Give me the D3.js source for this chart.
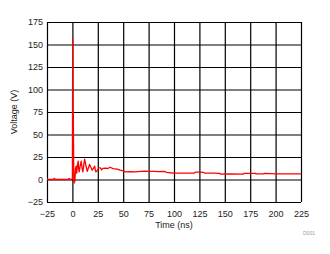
<!DOCTYPE html>
<html>
<head>
<meta charset="utf-8">
<script src="https://cdn.jsdelivr.net/npm/d3@7"></script>
<style>
  body { margin: 0; background: #fff; }
  svg { display: block; font-family: Arial, "Liberation Sans", sans-serif; }
</style>
</head>
<body>
<div id="chart"></div>
<script>
// Time axis (ns) and measured voltage (V)
const timeNs = [-25, -18.5, -18, -17.5, -17, -4, -3.5, -3, -2.5, -0.5, 0, 0.3, 0.6, 0.9, 1.3, 1.7, 2.1, 2.5,
  3, 3.7, 4.2, 5, 5.7, 6.2, 6.7, 7.5, 8.7, 9.5, 10.3, 11.2, 12, 13, 14.6, 15.8, 16.9, 18, 19.5, 20.5,
  21.9, 22.5, 23.1, 24.5, 26, 27.5, 28.7, 30, 32, 35, 37, 40, 44, 47, 50, 52, 57, 62, 67, 71, 75, 80,
  85, 90, 93, 96, 100, 105, 110, 116, 120, 121, 125, 129, 130, 135, 140, 145, 146, 155, 168, 169, 175,
  180, 181, 188, 189, 195, 200, 210, 225];
const voltage = [0, 0, 1.2, 1.2, 0, 0, 1, 1, 0, 0.5, 1, 156, 70, 72, 10, -4, 6, -2,
  12, 14.8, 7, 16, 20.3, 12, 8.5, 14, 20.3, 13, 8.5, 16, 22.5, 17, 9, 13, 16.7, 14, 10.3, 12,
  14.8, 11, 8.5, 10, 13, 13, 10.7, 12.4, 12.6, 12.2, 13.6, 12, 11.5, 10.3, 9.5, 8.5, 8.7, 8.5, 9, 9.2, 9, 9,
  8.8, 9, 8, 7.5, 7, 7, 7, 7, 7.2, 8.2, 8.3, 8, 7.2, 7, 7, 6.8, 6, 6.2, 6, 6.8, 6.8,
  6.8, 6.2, 6.3, 6.8, 6.5, 6.2, 6.2, 6.2];

const xTicks = [-25, 0, 25, 50, 75, 100, 125, 150, 175, 200, 225];
const yTicks = [-25, 0, 25, 50, 75, 100, 125, 150, 175];

const data = timeNs.map((t, i) => ({ t, v: voltage[i] }));

const W = 330, H = 254;
const margin = { top: 22, right: 29, bottom: 52, left: 47 };
const width = W - margin.left - margin.right;
const height = H - margin.top - margin.bottom;

const svg = d3.select("#chart")
  .append("svg")
  .attr("width", W)
  .attr("height", H);

const g = svg.append("g")
  .attr("transform", `translate(${margin.left},${margin.top})`);

const x = d3.scaleLinear().domain([-25, 225]).range([0, width]);
const y = d3.scaleLinear().domain([-25, 175]).range([height, 0]);

// Grid + x labels
const xAxis = g.append("g")
  .attr("transform", `translate(0,${height})`)
  .call(d3.axisBottom(x).tickValues(xTicks).tickSize(-height).tickPadding(9));
xAxis.select(".domain").remove();
xAxis.selectAll("line").attr("stroke", "#000").attr("stroke-width", 1.2);
xAxis.selectAll("text").attr("font-size", 9).attr("fill", "#222");

const yAxis = g.append("g")
  .call(d3.axisLeft(y).tickValues(yTicks).tickSize(-width).tickPadding(4));
yAxis.select(".domain").remove();
yAxis.selectAll("line").attr("stroke", "#000").attr("stroke-width", 1.2);
yAxis.selectAll("text").attr("font-size", 9).attr("fill", "#222");

// Voltage trace
g.append("path")
  .datum(data)
  .attr("fill", "none")
  .attr("stroke", "#ff0000")
  .attr("stroke-width", 1.3)
  .attr("stroke-linejoin", "round")
  .attr("d", d3.line().x(d => x(d.t)).y(d => y(d.v)));

// Axis titles
g.append("text")
  .attr("x", width / 2)
  .attr("y", height + 26)
  .attr("text-anchor", "middle")
  .attr("font-size", 9)
  .attr("fill", "#222")
  .text("Time (ns)");

g.append("text")
  .attr("transform", "rotate(-90)")
  .attr("x", -height / 2)
  .attr("y", -30)
  .attr("text-anchor", "middle")
  .attr("font-size", 9)
  .attr("fill", "#222")
  .text("Voltage (V)");

svg.append("text")
  .attr("x", 303)
  .attr("y", 235)
  .attr("font-size", 5)
  .attr("fill", "#999")
  .text("D001");
</script>
</body>
</html>
